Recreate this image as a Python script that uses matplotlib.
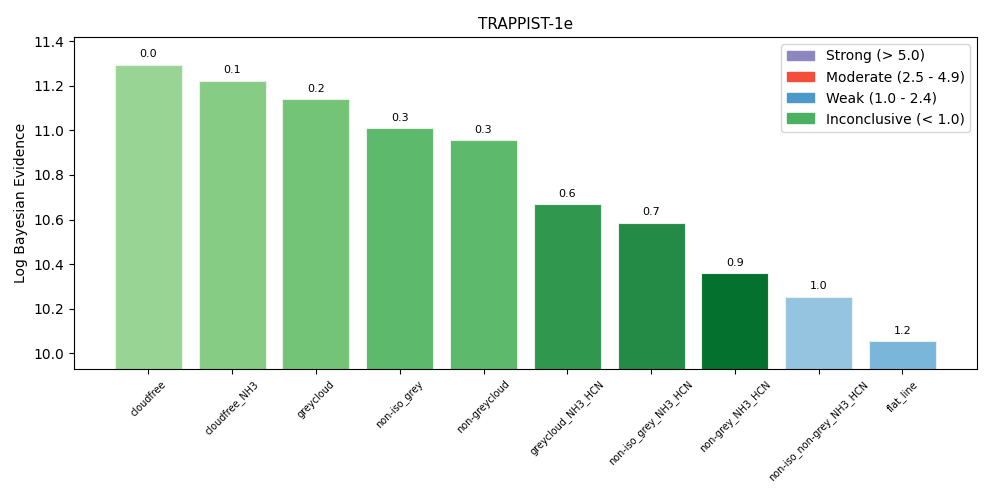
import matplotlib
matplotlib.use("Agg")
import matplotlib.pyplot as plt
from matplotlib.patches import Patch

models = ["cloudfree", "cloudfree_NH3", "greycloud", "non-iso_grey", "non-greycloud",
          "greycloud_NH3_HCN", "non-iso_grey_NH3_HCN", "non-grey_NH3_HCN",
          "non-iso_non-grey_NH3_HCN", "flat_line"]
log_evidence = [11.295, 11.223, 11.140, 11.010, 10.956, 10.669, 10.585, 10.359, 10.255, 10.054]
delta_labels = ["0.0", "0.1", "0.2", "0.3", "0.3", "0.6", "0.7", "0.9", "1.0", "1.2"]
bar_colors = ["#98d594", "#86cc85", "#73c476", "#5db96b", "#5db96b",
              "#2f974e", "#238b45", "#05712f", "#94c4df", "#7ab6d9"]
legend_labels = ["Strong (> 5.0)", "Moderate (2.5 - 4.9)", "Weak (1.0 - 2.4)", "Inconclusive (< 1.0)"]
legend_colors = ["#8c87bf", "#f44d38", "#4b98c9", "#4bb062"]

fig = plt.figure(figsize=(9.97, 4.98), dpi=100)
ax = fig.add_axes([0.074, 0.259, 0.906, 0.667])

x = list(range(len(models)))
bars = ax.bar(x, log_evidence, width=0.8, color=bar_colors, edgecolor="#e8f0e8", linewidth=0.8)
ymin, ymax = min(log_evidence), max(log_evidence)
rng = ymax - ymin
ax.set_ylim(ymin - 0.1 * rng, ymax + 0.1 * rng)

for b, lab in zip(bars, delta_labels):
    ax.annotate(lab, (b.get_x() + b.get_width() / 2, b.get_height()),
                xytext=(0, 4), textcoords="offset points", ha="center", va="bottom", fontsize=8)

ax.set_xticks(x)
ax.set_xticklabels(models, rotation=45, ha="center", fontsize=7)
ax.set_ylabel("Log Bayesian Evidence", fontsize=10)
ax.set_title("TRAPPIST-1e", fontsize=11)

handles = [Patch(color=c, label=l) for c, l in zip(legend_colors, legend_labels)]
ax.legend(handles=handles, loc="upper right", fontsize=10)

fig.savefig("out.png", dpi=100)
